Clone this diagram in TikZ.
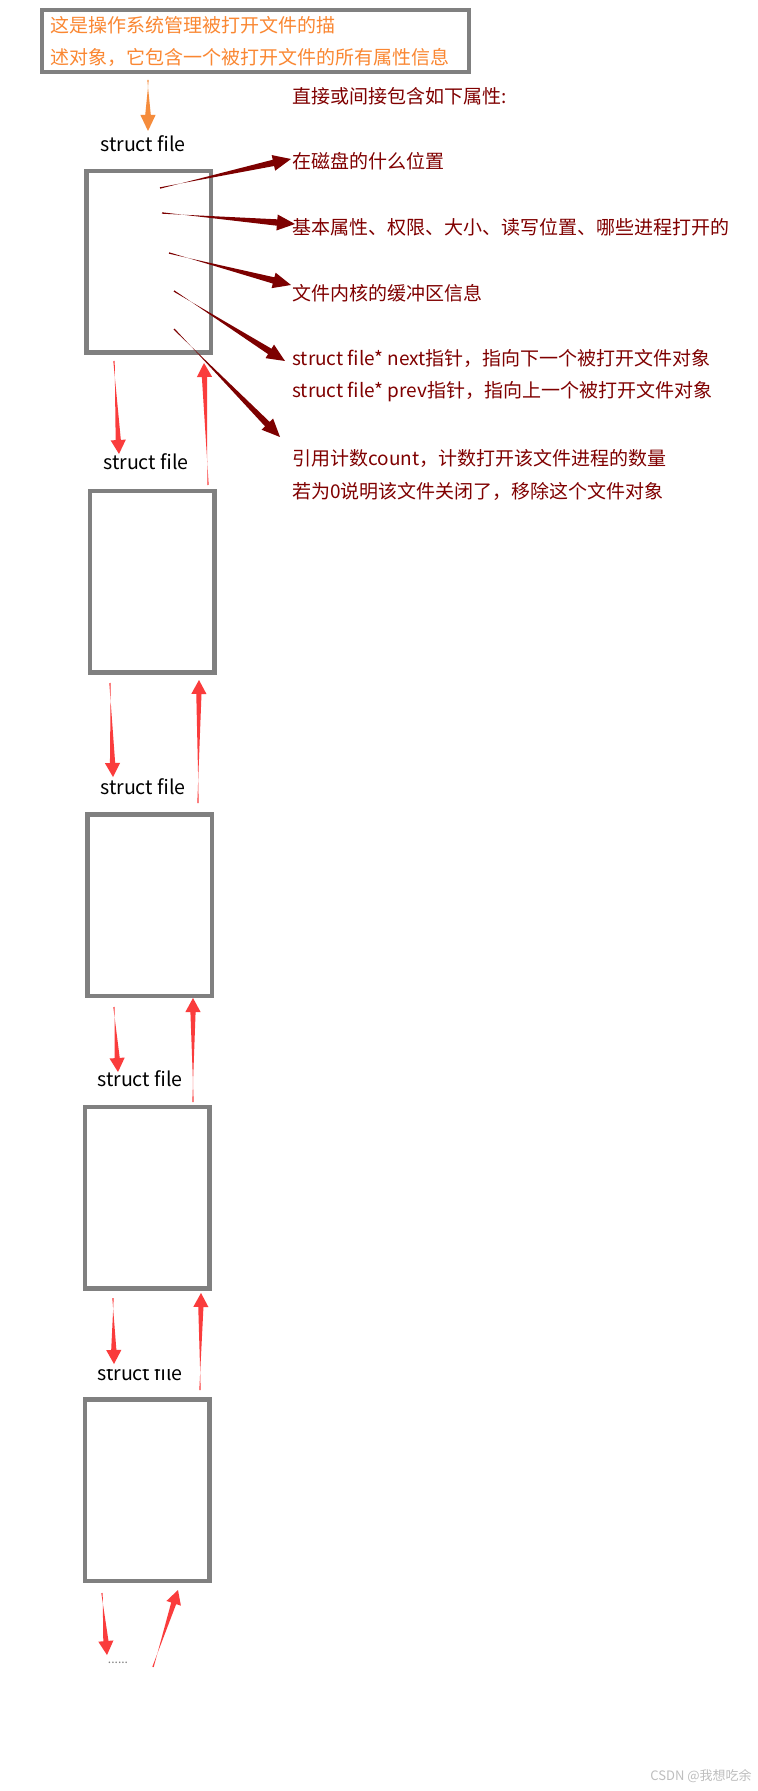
\documentclass[tikz,border=0pt]{standalone}
\usepackage{fontspec}
\setmainfont{Noto Sans CJK SC}
\usetikzlibrary{calc}
\definecolor{boxgray}{RGB}{128,128,128}
\definecolor{orangetxt}{RGB}{250,135,50}
\definecolor{orangearr}{RGB}{245,140,60}
\definecolor{maroontxt}{RGB}{128,0,0}
\definecolor{maroonarr}{RGB}{125,0,0}
\definecolor{redarr}{RGB}{250,60,60}
\definecolor{wmgray}{RGB}{190,190,190}
% #1 tail, #2 head, #3 colour, #4 shaft half width, #5 head length, #6 head half width
\newcommand\taperarrow[6]{%
  \coordinate (tb) at ($(#2)!#5!(#1)$);
  \fill[#3] ($(#1)!0.35pt!90:(#2)$) -- ($(tb)!#4!-90:(#2)$) -- ($(tb)!#6!-90:(#2)$) -- (#2)
     -- ($(tb)!#6!90:(#2)$) -- ($(tb)!#4!90:(#2)$) -- ($(#1)!0.35pt!-90:(#2)$) -- cycle;
}
\begin{document}
\begin{tikzpicture}[x=0.5pt,y=-0.5pt,
  filebox/.style={draw=boxgray, line width=2.25pt, minimum width=62.25pt, minimum height=90.75pt, inner sep=0pt},
  sflabel/.style={font=\fontsize{9.8}{11}\selectfont, text=black, inner sep=0pt},
  proplabel/.style={font=\fontsize{9.5}{11}\selectfont, text=maroontxt, anchor=west, inner sep=0pt},
  desctxt/.style={font=\fontsize{9.5}{11}\selectfont, text=orangetxt, anchor=west, inner sep=0pt}]
\useasboundingbox (0,0) rectangle (758,1791);
\fill[white] (0,0) rectangle (758,1791);

% description box
\node[draw=boxgray, line width=2pt, minimum width=213.5pt, minimum height=31pt, inner sep=0pt] (desc) at (255.5,41.5) {};
\node[desctxt] (d1) at (50,25) {这是操作系统管理被打开文件的描};
\node[desctxt] (d2) at (50,57) {述对象，它包含一个被打开文件的所有属性信息};

% orange arrow
\coordinate (oa1) at (148,80);
\coordinate (oa2) at (148,131);
\taperarrow{oa1}{oa2}{orangearr}{1.4pt}{8pt}{3.8pt}

% header
\node[proplabel] (hdr) at (292,96) {直接或间接包含如下属性:};

% struct file labels
\node[sflabel] (sf1) at (143,144) {struct file};
\node[sflabel] (sf2) at (146,462) {struct file};
\node[sflabel] (sf3) at (143,787) {struct file};
\node[sflabel] (sf4) at (140,1079) {struct file};
\begin{scope}
\clip (60,1369) rectangle (260,1400);
\node[sflabel] (sf5) at (140,1373) {struct file};
\end{scope}

% boxes
\node[filebox] (b1) at (148.5,262) {};
\node[filebox] (b2) at (152,581.5) {};
\node[filebox] (b3) at (149.5,905) {};
\node[filebox] (b4) at (147,1197.5) {};
\node[filebox] (b5) at (147,1490) {};

% property labels
\node[proplabel] (p1) at (292,161) {在磁盘的什么位置};
\node[proplabel] (p2) at (292,227) {基本属性、权限、大小、读写位置、哪些进程打开的};
\node[proplabel] (p3) at (292,293) {文件内核的缓冲区信息};
\node[proplabel] (p4) at (292,358) {struct file* next指针，指向下一个被打开文件对象};
\node[proplabel] (p5) at (292,392) {struct file* prev指针，指向上一个被打开文件对象};
\node[proplabel] (p6) at (292,458) {引用计数count，计数打开该文件进程的数量};
\node[proplabel] (p7) at (292,491) {若为0说明该文件关闭了，移除这个文件对象};

% dark red arrows
\coordinate (t1) at (160,188); \coordinate (h1) at (291,159);
\coordinate (t2) at (162,213); \coordinate (h2) at (295,224);
\coordinate (t3) at (169,253); \coordinate (h3) at (291,285);
\coordinate (t4) at (174,291); \coordinate (h4) at (285,361);
\coordinate (t5) at (174,329); \coordinate (h5) at (280,437);
\taperarrow{t1}{h1}{maroonarr}{1.6pt}{9pt}{4pt}
\taperarrow{t2}{h2}{maroonarr}{1.6pt}{9pt}{4pt}
\taperarrow{t3}{h3}{maroonarr}{1.6pt}{9pt}{4pt}
\taperarrow{t4}{h4}{maroonarr}{1.6pt}{9pt}{4pt}
\taperarrow{t5}{h5}{maroonarr}{1.6pt}{9pt}{4pt}

% red arrows between boxes
\coordinate (d1a) at (114,361);  \coordinate (d1b) at (119,454);
\coordinate (u1a) at (208,485);  \coordinate (u1b) at (204,363);
\coordinate (d2a) at (110,683);  \coordinate (d2b) at (113,777);
\coordinate (u2a) at (198,803);  \coordinate (u2b) at (199,680);
\coordinate (d3a) at (114,1007); \coordinate (d3b) at (118,1072);
\coordinate (u3a) at (193,1102); \coordinate (u3b) at (193,998);
\coordinate (d4a) at (113,1298); \coordinate (d4b) at (114,1364);
\coordinate (u4a) at (200,1390); \coordinate (u4b) at (201,1293);
\coordinate (d5a) at (102,1593); \coordinate (d5b) at (107,1655);
\coordinate (u5a) at (153,1667); \coordinate (u5b) at (178,1590);
\foreach \p in {d1,u1,d2,u2,d3,u3,d4,u4,d5,u5}{
  \taperarrow{\p a}{\p b}{redarr}{1.3pt}{7pt}{3.8pt}
}

\node[font=\fontsize{6}{7}\selectfont, text=gray, inner sep=0pt] (dots) at (118,1663) {......};

\node[font=\fontsize{6.5}{8}\selectfont, text=wmgray, anchor=east, inner sep=0pt] (wm) at (752,1776) {CSDN @我想吃余};
\end{tikzpicture}
\end{document}
